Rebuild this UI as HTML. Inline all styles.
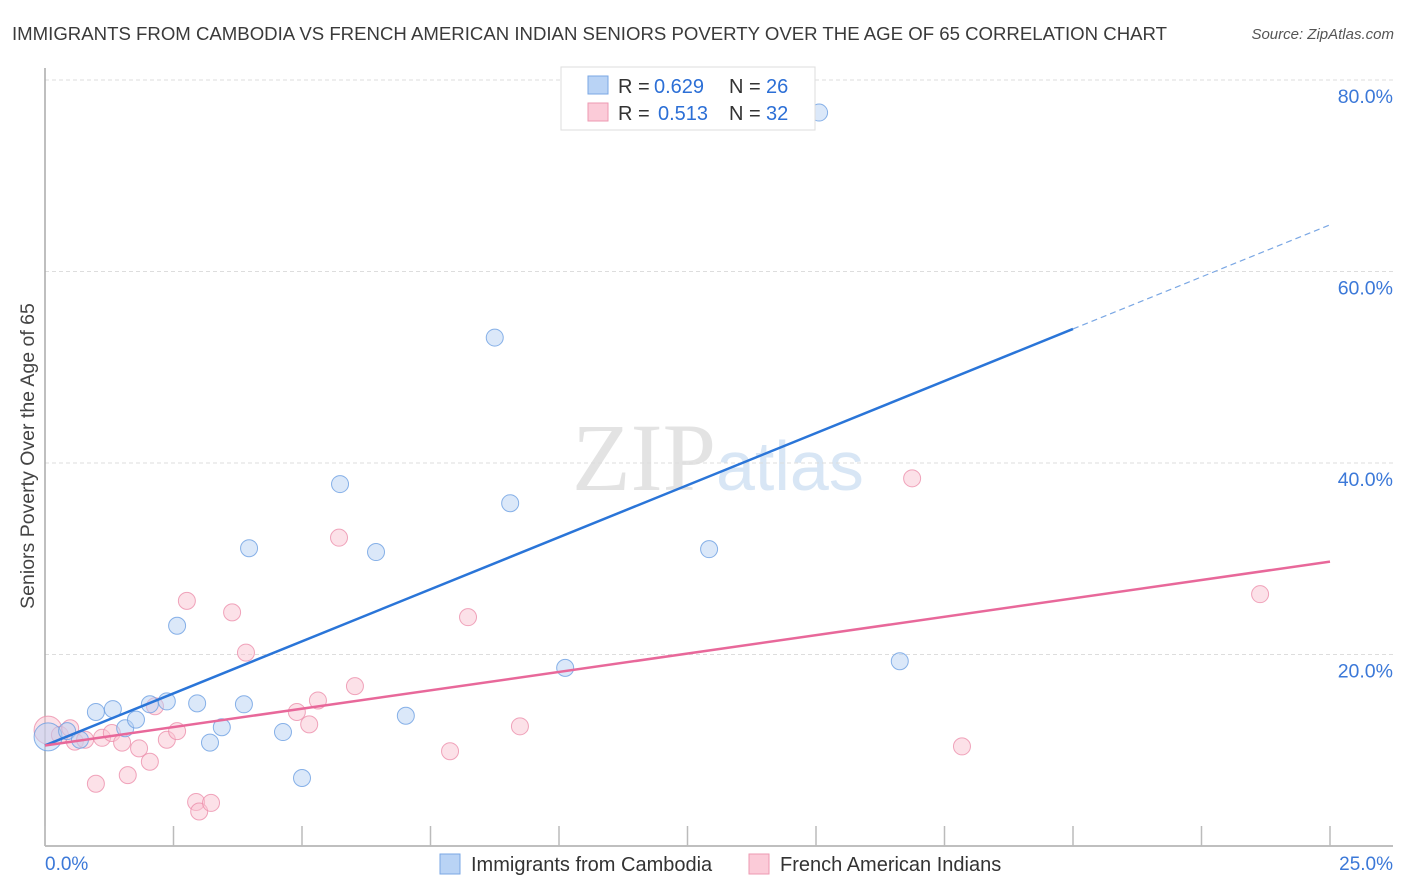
<!DOCTYPE html>
<html><head><meta charset="utf-8"><style>
body{margin:0;background:#fff;font-family:"Liberation Sans",sans-serif;}
svg{display:block}
</style></head><body>
<svg width="1406" height="892" id="chart">
<text x="12" y="40" font-size="18" fill="#3a3a3a" textLength="1155" lengthAdjust="spacingAndGlyphs">IMMIGRANTS FROM CAMBODIA VS FRENCH AMERICAN INDIAN SENIORS POVERTY OVER THE AGE OF 65 CORRELATION CHART</text>
<text x="1394" y="39" font-size="15" fill="#555" font-style="italic" text-anchor="end">Source: ZipAtlas.com</text>
<text x="716" y="490" font-size="96" fill="#e3e3e3" text-anchor="end" font-family="Liberation Serif,serif">ZIP</text>
<text x="716" y="490" font-size="70" fill="#d8e6f5">atlas</text>
<text transform="translate(34,456) rotate(-90)" font-size="19.5" fill="#444" text-anchor="middle">Seniors Poverty Over the Age of 65</text>
<g id="grid"></g><g id="axes"></g><g id="marks"></g>
<g>
<rect x="561" y="67" width="254" height="63" fill="#fff" stroke="#ddd"/>
<rect x="588" y="76" width="20" height="18" fill="#b9d3f5" stroke="#7aa7e4"/>
<text x="618" y="93" font-size="20" fill="#333">R =</text>
<text x="654" y="93" font-size="20" fill="#2c6fd6">0.629</text>
<text x="729" y="93" font-size="20" fill="#333">N =</text>
<text x="766" y="93" font-size="20" fill="#2c6fd6">26</text>
<rect x="588" y="103" width="20" height="18" fill="#fbcbd8" stroke="#ee99b2"/>
<text x="618" y="120" font-size="20" fill="#333">R =</text>
<text x="658" y="120" font-size="20" fill="#2c6fd6">0.513</text>
<text x="729" y="120" font-size="20" fill="#333">N =</text>
<text x="766" y="120" font-size="20" fill="#2c6fd6">32</text>
</g>
<g>
<rect x="440" y="854" width="20" height="20" fill="#b9d3f5" stroke="#7aa7e4"/>
<text x="471" y="871" font-size="20" fill="#333">Immigrants from Cambodia</text>
<rect x="749" y="854" width="20" height="20" fill="#fbcbd8" stroke="#ee99b2"/>
<text x="780" y="871" font-size="20" fill="#333">French American Indians</text>
</g>
</svg>
<script>
const blueX=[0.06,0.43,0.68,0.99,1.32,1.56,1.77,2.04,2.37,2.57,2.96,3.21,3.44,3.87,3.97,4.63,5.00,5.74,6.44,7.02,8.75,9.05,10.12,12.92,15.06,16.63];
const blueY=[11.4,12.0,11.1,14.0,14.3,12.3,13.2,14.8,15.1,23.0,14.9,10.8,12.4,14.8,31.1,11.9,7.1,37.8,30.7,13.6,53.1,35.8,18.6,31.0,76.6,19.3];
const pinkX=[0.06,0.29,0.49,0.58,0.78,0.99,1.11,1.30,1.50,1.61,1.83,2.04,2.14,2.37,2.57,2.76,2.94,3.00,3.23,3.64,3.91,4.90,5.14,5.31,5.72,6.03,7.88,8.23,9.24,16.87,17.84,23.64];
const pinkY=[12.1,11.6,12.3,10.9,11.1,6.5,11.3,11.8,10.8,7.4,10.2,8.8,14.6,11.1,12.0,25.6,4.6,3.6,4.5,24.4,20.2,14.0,12.7,15.2,32.2,16.7,9.9,23.9,12.5,38.4,10.4,26.3];
const blueTrend=[10.5,2.175];
const pinkTrend=[10.5,0.768];
const yTicks=[20,40,60,80];
const yLabels=["20.0%","40.0%","60.0%","80.0%"];
const xTicks=[0,2.5,5,7.5,10,12.5,15,17.5,20,22.5,25];
const NS="http://www.w3.org/2000/svg";
const sx=v=>45+v*51.4, sy=v=>846-v*9.575;
function mk(tag,attrs,parent){const e=document.createElementNS(NS,tag);for(const k in attrs)e.setAttribute(k,attrs[k]);document.getElementById(parent).appendChild(e);return e;}
yTicks.forEach((t,i)=>{
 const g=mk('line',{x1:45,x2:1393,y1:sy(t),y2:sy(t),stroke:'#ddd','stroke-dasharray':'4,3'},'grid');
 
 
 const l=mk('text',{x:1393,y:sy(t)+23,'font-size':19.5,fill:'#3b78d8','text-anchor':'end'},'axes');l.textContent=yLabels[i];
 
 
});
let a=mk('line',{x1:45,x2:45,y1:68,y2:846,stroke:'#aaa','stroke-width':1.5},'axes');


a=mk('line',{x1:45,x2:1393,y1:846,y2:846,stroke:'#aaa','stroke-width':1.5},'axes');


xTicks.forEach(t=>{const e=mk('line',{x1:sx(t),x2:sx(t),y1:826,y2:846,stroke:'#bbb','stroke-width':1.5},'axes');
 
 });
let t0=mk('text',{x:45,y:870,'font-size':19,fill:'#3b78d8'},'axes');t0.textContent="0.0%";


let t1=mk('text',{x:1393,y:870,'font-size':19,fill:'#3b78d8','text-anchor':'end'},'axes');t1.textContent="25.0%";


function pts(X,Y,fill,stroke,name){X.forEach((x,i)=>{const c=mk('circle',{cx:sx(x),cy:sy(Y[i]),r:i===0?14:8.5,fill:fill,stroke:stroke,'stroke-width':1,'fill-opacity':0.5,'stroke-opacity':0.8},'marks');
 
 });}
pts(pinkX,pinkY,'#f9c3d2','#ec8fab','pink-point');
pts(blueX,blueY,'#b8d2f4','#6b9fe2','blue-point');
let ln=mk('line',{x1:sx(0),y1:sy(blueTrend[0]),x2:sx(20),y2:sy(blueTrend[0]+20*blueTrend[1]),stroke:'#2a75d8','stroke-width':2.5},'marks');


ln=mk('line',{x1:sx(20),y1:sy(blueTrend[0]+20*blueTrend[1]),x2:sx(25),y2:sy(blueTrend[0]+25*blueTrend[1]),stroke:'#7aa7e4','stroke-width':1.2,'stroke-dasharray':'6,4'},'marks');


ln=mk('line',{x1:sx(0),y1:sy(pinkTrend[0]),x2:sx(25),y2:sy(pinkTrend[0]+25*pinkTrend[1]),stroke:'#e8689a','stroke-width':2.5},'marks');


</script>
</body></html>
